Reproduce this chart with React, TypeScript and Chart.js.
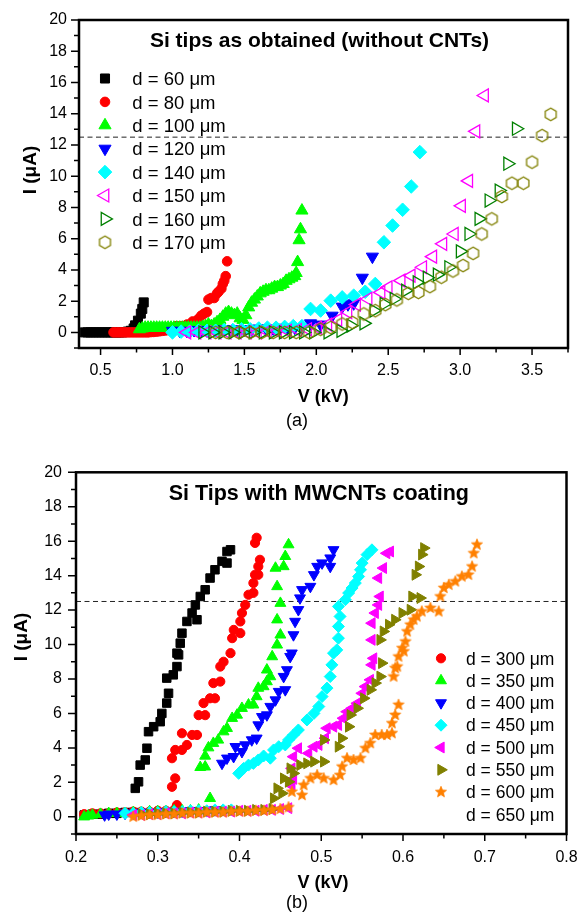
import { useEffect, useRef } from 'react';
import { Chart, registerables } from 'chart.js';

Chart.register(...registerables);

const FONT = "'Liberation Sans', Arial, Helvetica, sans-serif";
const THRESHOLD_I = 12.5;

// ---------------- Panel (a): Si tips as obtained ----------------
const A_TITLE = 'Si tips as obtained (without CNTs)';
const A_CAPTION = '(a)';
const A_X_TICKS = [0.5, 1.0, 1.5, 2.0, 2.5, 3.0, 3.5];
const A_X_MINOR = [0.75, 1.25, 1.75, 2.25, 2.75, 3.25, 3.75];
const A_Y_TICKS = [0, 2, 4, 6, 8, 10, 12, 14, 16, 18, 20];
const A_Y_MINOR = [-1, 1, 3, 5, 7, 9, 11, 13, 15, 17, 19];
const A_X_RANGE = [0.35, 3.75];
const A_Y_RANGE = [-1, 20];

const A60_V = [0.39,0.41,0.43,0.45,0.47,0.49,0.51,0.53,0.55,0.57,0.59,0.61,0.63,0.65,0.67,0.69,0.71,0.73,0.74,0.76,0.78,0.79,0.80];
const A60_I = [0,0,0,0,0,0,0,0,0,0,0,0,0,0,0.02,0.05,0.1,0.25,0.45,0.75,1.2,1.5,1.92];

const A80_V = [0.59,0.61,0.63,0.65,0.67,0.69,0.71,0.73,0.75,0.77,0.79,0.81,0.83,0.85,0.87,0.89,0.91,0.93,0.95,0.97,0.99,1.01,1.03,1.06,1.10,1.14,1.18,1.20,1.22,1.24,1.25,1.27,1.29,1.31,1.32,1.34,1.35,1.36,1.37,1.38];
const A80_I = [0,0,0,0,0,0,0,0,0,0,0,0,0,0.02,0.03,0.05,0.07,0.1,0.12,0.15,0.2,0.25,0.4,0.4,0.5,0.7,0.86,1.07,1.2,1.3,2.1,2.2,2.2,2.5,2.6,2.8,3.1,3.3,3.6,4.55];

const A100_V = [0.77,0.79,0.81,0.83,0.85,0.87,0.89,0.91,0.93,0.95,0.97,0.99,1.01,1.03,1.05,1.07,1.09,1.11,1.13,1.15,1.17,1.19,1.21,1.23,1.25,1.27,1.29,1.31,1.33,1.35,1.37,1.39,1.41,1.43,1.45,1.47,1.49,1.51,1.53,1.55,1.57,1.59,1.61,1.63,1.65,1.67,1.69,1.71,1.73,1.75,1.77,1.79,1.81,1.83,1.85,1.86,1.87,1.88,1.89,1.90];
const A100_I = [0.2,0.25,0.3,0.3,0.3,0.3,0.3,0.3,0.3,0.3,0.3,0.3,0.3,0.3,0.3,0.3,0.3,0.3,0.3,0.3,0.3,0.3,0.35,0.4,0.5,0.4,0.5,0.65,0.8,1.0,1.2,1.3,1.2,1.1,1.2,0.9,0.8,1.1,1.6,1.9,2.1,2.3,2.5,2.6,2.7,2.7,2.8,2.9,2.9,3.0,3.1,3.3,3.4,3.5,3.6,3.8,4.5,5.9,6.6,7.8];

const A120_V = [1.00,1.05,1.10,1.15,1.20,1.25,1.30,1.35,1.40,1.45,1.50,1.55,1.60,1.65,1.70,1.75,1.80,1.85,1.90,1.96,2.03,2.11,2.18,2.22,2.26,2.32,2.39];
const A120_I = [0.1,0.1,0.1,0.15,0.15,0.15,0.15,0.2,0.2,0.2,0.2,0.2,0.25,0.25,0.25,0.3,0.3,0.3,0.3,0.58,0.5,1.07,1.65,1.8,1.86,3.5,4.85];

const A140_V = [1.00,1.06,1.12,1.18,1.24,1.30,1.36,1.42,1.48,1.54,1.60,1.66,1.72,1.78,1.84,1.90,1.96,2.03,2.10,2.18,2.26,2.34,2.41,2.47,2.53,2.60,2.66,2.72];
const A140_I = [0,0.05,0.05,0.1,0.1,0.1,0.15,0.15,0.2,0.2,0.25,0.3,0.3,0.35,0.4,0.4,1.5,1.4,2.03,2.24,2.35,2.6,3.1,5.77,6.84,7.85,9.34,11.54];

const A150_V = [1.10,1.17,1.24,1.31,1.38,1.45,1.52,1.59,1.66,1.73,1.80,1.87,1.94,2.01,2.08,2.15,2.22,2.28,2.36,2.45,2.50,2.59,2.66,2.74,2.81,2.88,2.96,3.01,3.06,3.11,3.17];
const A150_I = [0,0,0,0,0,0,0,0,0.05,0.05,0.1,0.15,0.2,0.3,0.5,0.8,1.3,1.78,2.14,2.56,2.88,3.31,3.63,4.17,4.85,5.67,6.3,8.1,9.7,12.87,15.17];

const A160_V = [1.21,1.28,1.35,1.42,1.49,1.56,1.63,1.70,1.77,1.84,1.91,1.98,2.08,2.17,2.24,2.33,2.40,2.47,2.54,2.62,2.70,2.77,2.84,2.92,3.00,3.06,3.13,3.20,3.27,3.33,3.39];
const A160_I = [0,0,0,0,0,0,0,0,0,0,0,0,0,0.1,0.43,0.58,1.39,1.82,2.14,2.67,3.2,3.5,3.7,4.17,5.19,6.3,7.27,8.44,9.08,10.8,13.04];

const A170_V = [1.30,1.38,1.46,1.54,1.62,1.70,1.78,1.86,1.95,2.03,2.10,2.18,2.25,2.33,2.41,2.48,2.56,2.64,2.71,2.79,2.87,2.95,3.02,3.09,3.15,3.22,3.29,3.36,3.44,3.50,3.57,3.63];
const A170_I = [0,0,0,0,0,0,0,0,0,0.2,0.32,0.54,0.64,1.18,1.39,1.78,2.08,2.5,2.56,2.93,3.53,3.93,4.28,5.06,6.3,7.27,8.7,9.55,9.55,10.9,12.6,13.96];

// ---------------- Panel (b): Si tips with MWCNTs ----------------
const B_TITLE = 'Si Tips with MWCNTs coating';
const B_CAPTION = '(b)';
const B_X_TICKS = [0.2, 0.3, 0.4, 0.5, 0.6, 0.7, 0.8];
const B_X_MINOR = [0.25, 0.35, 0.45, 0.55, 0.65, 0.75];
const B_Y_TICKS = [0, 2, 4, 6, 8, 10, 12, 14, 16, 18, 20];
const B_Y_MINOR = [-1, 1, 3, 5, 7, 9, 11, 13, 15, 17, 19];
const B_X_RANGE = [0.2, 0.8];
const B_Y_RANGE = [-1, 20];

const BK_V = [0.21,0.22,0.23,0.24,0.25,0.26,0.27,0.2725,0.2765,0.2785,0.2847,0.2868,0.2887,0.295,0.303,0.305,0.311,0.3132,0.311,0.319,0.3235,0.3255,0.3235,0.3275,0.3296,0.3357,0.342,0.348,0.346,0.352,0.358,0.364,0.370,0.3786,0.3847,0.3847,0.389];
const BK_I = [0.1,0.15,0.15,0.2,0.2,0.25,0.25,1.65,2.03,3.0,3.3,3.98,4.94,5.23,5.52,6.0,6.6,7.17,8.05,8.24,8.72,9.4,9.5,10.08,10.66,11.34,11.83,11.44,12.3,12.79,13.18,13.86,14.34,14.83,14.73,15.4,15.5];

const B300_V = [0.21,0.22,0.23,0.24,0.25,0.26,0.27,0.28,0.29,0.30,0.31,0.32,0.3235,0.3174,0.3214,0.3174,0.3214,0.3296,0.3357,0.3296,0.342,0.348,0.350,0.358,0.356,0.364,0.370,0.368,0.3765,0.3765,0.3805,0.389,0.391,0.393,0.401,0.401,0.403,0.407,0.411,0.417,0.417,0.419,0.423,0.423,0.425,0.419,0.421];
const B300_I = [0.15,0.2,0.2,0.2,0.25,0.25,0.3,0.3,0.3,0.35,0.35,0.4,0.68,1.74,2.23,3.4,3.88,3.88,4.17,4.85,4.75,4.75,5.9,5.9,6.6,6.88,6.88,7.76,7.85,8.72,9.0,9.5,10.37,10.85,10.66,11.34,11.83,12.3,12.89,13.0,13.57,14.05,14.05,14.53,14.92,15.9,16.2];

const B350_V = [0.21,0.215,0.22,0.23,0.24,0.25,0.26,0.27,0.28,0.29,0.30,0.31,0.32,0.33,0.34,0.35,0.364,0.352,0.358,0.358,0.362,0.368,0.374,0.3805,0.3847,0.391,0.397,0.403,0.411,0.417,0.421,0.423,0.4295,0.4335,0.4377,0.4335,0.44,0.446,0.45,0.446,0.45,0.446,0.444,0.454,0.456,0.46];
const B350_I = [0,0.05,0.1,0.15,0.2,0.2,0.2,0.25,0.25,0.3,0.3,0.3,0.35,0.35,0.35,0.4,1.07,2.87,2.9,3.53,4.01,4.27,4.46,4.94,5.14,5.72,5.91,6.3,6.5,6.5,6.98,7.47,7.56,7.85,8.14,8.53,9.3,9.98,10.56,11.44,12.4,13.37,14.44,14.53,15.12,15.8];

const B400_V = [0.235,0.24,0.25,0.26,0.27,0.28,0.29,0.30,0.31,0.32,0.33,0.34,0.35,0.36,0.37,0.3786,0.3847,0.3928,0.395,0.403,0.407,0.415,0.421,0.423,0.4275,0.4335,0.4377,0.444,0.448,0.456,0.454,0.458,0.462,0.464,0.466,0.468,0.472,0.474,0.4765,0.4867,0.491,0.495,0.501,0.511,0.511,0.515];
const B400_I = [0.1,0.15,0.15,0.2,0.2,0.25,0.25,0.25,0.3,0.3,0.3,0.35,0.35,0.35,0.4,3.1,3.4,3.49,4.07,3.78,4.17,4.46,4.56,5.33,5.81,5.91,6.4,6.78,7.27,7.37,8.14,8.53,9.3,9.5,10.56,11.34,12.02,12.7,13.18,13.37,14.05,14.53,14.73,14.53,15.02,15.5];

const B450_V = [0.26,0.27,0.28,0.29,0.30,0.31,0.32,0.33,0.34,0.35,0.36,0.37,0.38,0.39,0.399,0.405,0.411,0.417,0.423,0.4295,0.4377,0.4417,0.448,0.456,0.46,0.466,0.472,0.4825,0.491,0.497,0.501,0.507,0.511,0.513,0.515,0.519,0.521,0.521,0.523,0.521,0.5295,0.5335,0.5377,0.5417,0.5457,0.548,0.55,0.556,0.562];
const B450_I = [0.2,0.2,0.25,0.25,0.25,0.3,0.3,0.3,0.35,0.35,0.35,0.4,0.4,0.4,2.52,2.81,3.0,3.1,3.3,3.53,3.4,3.88,4.07,4.17,4.46,4.75,5.04,5.62,6.0,6.4,6.98,7.47,8.14,8.82,9.5,9.69,10.37,11.05,11.63,12.21,12.6,12.99,13.28,13.57,13.95,14.34,14.73,15.22,15.5];

const B500_V = [0.27,0.28,0.29,0.30,0.31,0.32,0.33,0.34,0.35,0.36,0.37,0.38,0.39,0.40,0.41,0.42,0.43,0.44,0.45,0.46,0.464,0.466,0.464,0.466,0.472,0.4845,0.491,0.497,0.505,0.507,0.515,0.521,0.527,0.5315,0.5377,0.544,0.55,0.554,0.56,0.562,0.564,0.562,0.562,0.566,0.570,0.572,0.570,0.576,0.58,0.5845];
const B500_I = [0.1,0.1,0.15,0.15,0.2,0.2,0.2,0.25,0.25,0.25,0.3,0.3,0.3,0.35,0.35,0.35,0.4,0.4,0.45,0.5,1.8,2.2,2.81,3.49,3.98,3.69,4.07,4.17,4.56,5.14,5.23,5.33,5.72,6.1,6.3,6.59,7.17,7.56,7.95,8.82,9.2,10.27,11.24,11.83,12.3,12.79,13.86,14.44,15.3,15.4];

const B550_V = [0.28,0.29,0.30,0.31,0.32,0.33,0.34,0.35,0.36,0.37,0.38,0.39,0.40,0.41,0.42,0.43,0.44,0.4417,0.446,0.452,0.454,0.46,0.462,0.466,0.474,0.4825,0.491,0.503,0.503,0.521,0.525,0.5335,0.5355,0.544,0.552,0.56,0.566,0.572,0.574,0.572,0.576,0.5825,0.59,0.599,0.609,0.611,0.621,0.615,0.619,0.623,0.6255];
const B550_I = [0.15,0.15,0.2,0.2,0.2,0.25,0.25,0.25,0.3,0.3,0.3,0.35,0.35,0.35,0.4,0.4,0.45,1.07,1.65,1.36,2.23,2.03,2.81,2.52,3.0,3.1,3.2,3.2,4.46,4.07,4.56,5.23,5.91,6.3,6.88,7.37,7.76,8.14,8.92,10.27,10.76,11.15,11.44,11.83,12.02,12.79,12.7,14.05,14.53,15.22,15.6];

const B600_V = [0.27,0.28,0.29,0.30,0.31,0.32,0.33,0.34,0.35,0.36,0.37,0.38,0.39,0.40,0.41,0.42,0.43,0.44,0.45,0.46,0.464,0.4765,0.4785,0.4867,0.495,0.503,0.515,0.523,0.5255,0.5315,0.5395,0.548,0.554,0.56,0.566,0.574,0.5805,0.5865,0.5865,0.5905,0.5945,0.5885,0.5905,0.593,0.5945,0.599,0.601,0.603,0.605,0.609,0.613,0.617,0.623,0.6335,0.6437,0.6457,0.65,0.656,0.664,0.672,0.680,0.6845,0.6865,0.6905];
const B600_I = [0.0,0.05,0.1,0.1,0.15,0.15,0.2,0.2,0.2,0.25,0.25,0.25,0.3,0.3,0.3,0.35,0.35,0.4,0.45,0.55,1.45,1.26,1.84,2.23,2.42,2.23,2.13,2.42,2.91,3.4,3.3,3.4,3.98,4.27,4.75,4.75,4.75,4.85,5.43,5.91,6.5,8.14,8.63,8.72,9.3,9.79,9.6,10.17,10.76,11.15,11.44,11.63,11.92,12.12,11.92,12.79,13.28,13.47,13.66,13.95,14.05,14.53,15.3,15.8];

type Marker = { shape: string; rotation?: number; radius: number; color: string; filled: boolean };
type Series = { label: string | null; v: number[]; i: number[]; marker: Marker | null };

const A_SERIES: Series[] = [
  { label: 'd = 60 \u03bcm', v: A60_V, i: A60_I, marker: { shape: 'rect', radius: 6.4, color: '#000000', filled: true } },
  { label: 'd = 80 \u03bcm', v: A80_V, i: A80_I, marker: { shape: 'circle', radius: 4.8, color: '#ff0000', filled: true } },
  { label: 'd = 100 \u03bcm', v: A100_V, i: A100_I, marker: { shape: 'triangle', radius: 7, color: '#00ff00', filled: true } },
  { label: 'd = 120 \u03bcm', v: A120_V, i: A120_I, marker: { shape: 'triangle', rotation: 180, radius: 7, color: '#0000ff', filled: true } },
  { label: 'd = 140 \u03bcm', v: A140_V, i: A140_I, marker: { shape: 'rectRot', radius: 6.8, color: '#00ffff', filled: true } },
  { label: 'd = 150 \u03bcm', v: A150_V, i: A150_I, marker: { shape: 'triangle', rotation: 270, radius: 7.5, color: '#ff00ff', filled: false } },
  { label: 'd = 160 \u03bcm', v: A160_V, i: A160_I, marker: { shape: 'triangle', rotation: 90, radius: 7.5, color: '#008000', filled: false } },
  { label: 'd = 170 \u03bcm', v: A170_V, i: A170_I, marker: { shape: 'hexagon', radius: 6.3, color: '#808000', filled: false } },
];

const B_SERIES: Series[] = [
  { label: null, v: BK_V, i: BK_I, marker: { shape: 'rect', radius: 6, color: '#000000', filled: true } },
  { label: 'd = 300 \u03bcm', v: B300_V, i: B300_I, marker: { shape: 'circle', radius: 4.6, color: '#ff0000', filled: true } },
  { label: 'd = 350 \u03bcm', v: B350_V, i: B350_I, marker: { shape: 'triangle', radius: 6.3, color: '#00ff00', filled: true } },
  { label: 'd = 400 \u03bcm', v: B400_V, i: B400_I, marker: { shape: 'triangle', rotation: 180, radius: 6.3, color: '#0000ff', filled: true } },
  { label: 'd = 450 \u03bcm', v: B450_V, i: B450_I, marker: { shape: 'rectRot', radius: 6, color: '#00ffff', filled: true } },
  { label: 'd = 500 \u03bcm', v: B500_V, i: B500_I, marker: { shape: 'triangle', rotation: 270, radius: 6.3, color: '#ff00ff', filled: true } },
  { label: 'd = 550 \u03bcm', v: B550_V, i: B550_I, marker: { shape: 'triangle', rotation: 90, radius: 6.3, color: '#808000', filled: true } },
  { label: 'd = 600 \u03bcm', v: B600_V, i: B600_I, marker: { shape: 'star', radius: 5.8, color: '#ff8000', filled: true } },
  { label: 'd = 650 \u03bcm', v: [], i: [], marker: null },
];

type PanelDef = {
  series: Series[];
  xRange: number[]; yRange: number[];
  xTicks: number[]; xMinor: number[]; yTicks: number[]; yMinor: number[];
  height: number;
  yAxisWidth: number; xAxisHeight: number;
  padding: { left: number; right: number; top: number; bottom: number };
  xTickPad: number; yTickPad: number;
  title: string; titleFont: number; titleX: number; titleY: number;
  xTitleX: number; xTitleY: number; yTitleX: number; yTitleY: number;
  caption: string; captionY: number;
  legendMarkerX: number; legendTextX: number; legendY0: number; legendDy: number; legendFont: number;
};

const PANEL_A: PanelDef = {
  series: A_SERIES, xRange: A_X_RANGE, yRange: A_Y_RANGE,
  xTicks: A_X_TICKS, xMinor: A_X_MINOR, yTicks: A_Y_TICKS, yMinor: A_Y_MINOR,
  height: 440, yAxisWidth: 79, xAxisHeight: 40,
  padding: { left: 0, right: 14, top: 20, bottom: 52 },
  xTickPad: 13, yTickPad: 12,
  title: A_TITLE, titleFont: 21, titleX: 319.5, titleY: 46.5,
  xTitleX: 323.3, xTitleY: 402, yTitleX: 31, yTitleY: 170,
  caption: A_CAPTION, captionY: 426,
  legendMarkerX: 105, legendTextX: 132.3, legendY0: 78.5, legendDy: 23.4, legendFont: 18.5,
};

const PANEL_B: PanelDef = {
  series: B_SERIES, xRange: B_X_RANGE, yRange: B_Y_RANGE,
  xTicks: B_X_TICKS, xMinor: B_X_MINOR, yTicks: B_Y_TICKS, yMinor: B_Y_MINOR,
  height: 473, yAxisWidth: 76, xAxisHeight: 40,
  padding: { left: 0, right: 15.5, top: 32.3, bottom: 39 },
  xTickPad: 14, yTickPad: 14,
  title: B_TITLE, titleFont: 21.5, titleX: 318.8, titleY: 60,
  xTitleX: 323, xTitleY: 448, yTitleX: 22, yTitleY: 197,
  caption: B_CAPTION, captionY: 468,
  legendMarkerX: 441, legendTextX: 466, legendY0: 218.3, legendDy: 22.3, legendFont: 17.5,
};

function makeImage(m: Marker): HTMLCanvasElement {
  const r = m.radius;
  const size = Math.ceil(2 * r + 4);
  const c = document.createElement('canvas');
  c.width = size; c.height = size;
  const ctx = c.getContext('2d') as CanvasRenderingContext2D;
  const cx = size / 2, cy = size / 2;
  ctx.beginPath();
  if (m.shape === 'hexagon') {
    for (let k = 0; k < 6; k++) {
      const a = Math.PI / 2 + (k * Math.PI) / 3;
      const x = cx + r * Math.cos(a), y = cy - r * Math.sin(a);
      if (k === 0) ctx.moveTo(x, y); else ctx.lineTo(x, y);
    }
  } else {
    for (let k = 0; k < 10; k++) {
      const rr = k % 2 === 0 ? r : r * 0.45;
      const a = Math.PI / 2 + (k * Math.PI) / 5;
      const x = cx + rr * Math.cos(a), y = cy - rr * Math.sin(a);
      if (k === 0) ctx.moveTo(x, y); else ctx.lineTo(x, y);
    }
  }
  ctx.closePath();
  if (m.filled) { ctx.fillStyle = m.color; ctx.fill(); }
  ctx.strokeStyle = m.color; ctx.lineWidth = m.filled ? 0.8 : 1.3;
  ctx.stroke();
  return c;
}

function drawMarker(ctx: CanvasRenderingContext2D, m: Marker, img: HTMLCanvasElement | null, x: number, y: number) {
  if (img) { ctx.drawImage(img, x - img.width / 2, y - img.height / 2); return; }
  const r = m.radius;
  ctx.save();
  ctx.fillStyle = m.filled ? m.color : 'rgba(0,0,0,0)';
  ctx.strokeStyle = m.color;
  ctx.lineWidth = m.filled ? 1 : 1.3;
  ctx.beginPath();
  if (m.shape === 'rect') {
    const s = Math.SQRT1_2 * r; ctx.rect(x - s, y - s, 2 * s, 2 * s);
  } else if (m.shape === 'circle') {
    ctx.arc(x, y, r, 0, 2 * Math.PI);
  } else if (m.shape === 'rectRot') {
    ctx.moveTo(x - r, y); ctx.lineTo(x, y - r); ctx.lineTo(x + r, y); ctx.lineTo(x, y + r); ctx.closePath();
  } else if (m.shape === 'triangle') {
    let a = ((m.rotation || 0) * Math.PI) / 180;
    ctx.moveTo(x + Math.sin(a) * r, y - Math.cos(a) * r);
    a += (2 * Math.PI) / 3; ctx.lineTo(x + Math.sin(a) * r, y - Math.cos(a) * r);
    a += (2 * Math.PI) / 3; ctx.lineTo(x + Math.sin(a) * r, y - Math.cos(a) * r);
    ctx.closePath();
  }
  if (m.filled) ctx.fill();
  ctx.stroke();
  ctx.restore();
}

function buildChart(canvas: HTMLCanvasElement, p: PanelDef): Chart {
  const imgs = p.series.map((s) => (s.marker && (s.marker.shape === 'hexagon' || s.marker.shape === 'star') ? makeImage(s.marker) : null));
  const plotted = p.series.map((s, k) => ({ s, img: imgs[k] })).filter((o) => o.s.marker);
  const n = plotted.length;
  const datasets: any[] = plotted.map(({ s, img }, idx) => {
    const m = s.marker as Marker;
    return {
      label: s.label || '',
      data: s.v.map((x, k) => ({ x, y: s.i[k] })),
      pointStyle: img || m.shape,
      pointRotation: m.rotation || 0,
      rotation: m.rotation || 0,
      pointRadius: m.radius,
      pointHoverRadius: m.radius,
      pointBackgroundColor: m.filled ? m.color : 'rgba(0,0,0,0)',
      pointBorderColor: m.color,
      pointBorderWidth: m.filled ? 1 : 1.3,
      backgroundColor: m.filled ? m.color : 'rgba(0,0,0,0)',
      borderColor: m.color,
      showLine: false,
      order: n - idx,
    };
  });
  datasets.push({
    label: 'threshold',
    data: [{ x: p.xRange[0], y: THRESHOLD_I }, { x: p.xRange[1], y: THRESHOLD_I }],
    showLine: true,
    pointRadius: 0,
    borderColor: '#222222',
    borderWidth: 1,
    borderDash: [5, 3.5],
    order: n + 10,
  });

  const decor = {
    id: 'decor',
    afterDraw(chart: any) {
      const ctx: CanvasRenderingContext2D = chart.ctx;
      const a = chart.chartArea;
      const xs = chart.scales.x, ys = chart.scales.y;
      ctx.save();
      ctx.strokeStyle = '#000';
      ctx.lineWidth = 1.5;
      ctx.beginPath();
      p.xTicks.forEach((v) => { const px = xs.getPixelForValue(v); ctx.moveTo(px, a.bottom); ctx.lineTo(px, a.bottom + 7); });
      p.xMinor.forEach((v) => { const px = xs.getPixelForValue(v); ctx.moveTo(px, a.bottom); ctx.lineTo(px, a.bottom + 4.5); });
      p.yTicks.forEach((v) => { const py = ys.getPixelForValue(v); ctx.moveTo(a.left, py); ctx.lineTo(a.left - 8, py); });
      p.yMinor.forEach((v) => { const py = ys.getPixelForValue(v); ctx.moveTo(a.left, py); ctx.lineTo(a.left - 5, py); });
      ctx.stroke();
      ctx.lineWidth = 2.5;
      ctx.strokeRect(a.left, a.top, a.right - a.left, a.bottom - a.top);

      ctx.fillStyle = '#000';
      ctx.textBaseline = 'alphabetic';
      ctx.textAlign = 'center';
      ctx.font = `bold ${p.titleFont}px ${FONT}`;
      ctx.fillText(p.title, p.titleX, p.titleY);
      ctx.font = `bold 18px ${FONT}`;
      ctx.fillText('V (kV)', p.xTitleX, p.xTitleY);
      ctx.font = `18px ${FONT}`;
      ctx.fillText(p.caption, 297, p.captionY);
      ctx.save();
      ctx.translate(p.yTitleX, p.yTitleY);
      ctx.rotate(-Math.PI / 2);
      ctx.textBaseline = 'middle';
      ctx.font = `bold 19px ${FONT}`;
      ctx.fillText('I (\u03bcA)', 0, 0);
      ctx.restore();

      // legend
      ctx.textAlign = 'left';
      ctx.textBaseline = 'alphabetic';
      ctx.font = `${p.legendFont}px ${FONT}`;
      let row = 0;
      p.series.forEach((s, k) => {
        if (!s.label) return;
        const cy = p.legendY0 + row * p.legendDy;
        if (s.marker) drawMarker(ctx, s.marker, imgs[k], p.legendMarkerX, cy);
        ctx.fillStyle = '#000';
        ctx.fillText(s.label, p.legendTextX, cy + 0.358 * p.legendFont);
        row++;
      });
      ctx.restore();
    },
  };

  const tickFont = { family: FONT, size: 16 };
  return new Chart(canvas, {
    type: 'scatter',
    data: { datasets },
    plugins: [decor],
    options: {
      animation: false,
      responsive: false,
      devicePixelRatio: 1,
      events: [],
      layout: { padding: p.padding },
      plugins: { legend: { display: false }, tooltip: { enabled: false }, title: { display: false } },
      scales: {
        x: {
          type: 'linear',
          min: p.xRange[0], max: p.xRange[1],
          grid: { display: false, drawTicks: false },
          border: { display: false },
          afterBuildTicks: (s: any) => { s.ticks = p.xTicks.map((v) => ({ value: v })); },
          afterFit: (s: any) => { s.height = p.xAxisHeight; s.paddingLeft = 0; s.paddingRight = 0; },
          ticks: {
            font: tickFont, color: '#000', padding: p.xTickPad, maxRotation: 0, autoSkip: false,
            callback: (v: any) => Number(v).toFixed(1),
          },
        },
        y: {
          type: 'linear',
          min: p.yRange[0], max: p.yRange[1],
          grid: { display: false, drawTicks: false },
          border: { display: false },
          afterBuildTicks: (s: any) => { s.ticks = p.yTicks.map((v) => ({ value: v })); },
          afterFit: (s: any) => { s.width = p.yAxisWidth; s.paddingTop = 0; s.paddingBottom = 0; },
          ticks: {
            font: tickFont, color: '#000', padding: p.yTickPad, autoSkip: false,
            callback: (v: any) => String(v),
          },
        },
      },
    } as any,
  });
}

export default function App() {
  const refA = useRef<HTMLCanvasElement | null>(null);
  const refB = useRef<HTMLCanvasElement | null>(null);
  useEffect(() => {
    const ca = buildChart(refA.current as HTMLCanvasElement, PANEL_A);
    const cb = buildChart(refB.current as HTMLCanvasElement, PANEL_B);
    return () => { ca.destroy(); cb.destroy(); };
  }, []);
  return (
    <div style={{ position: 'absolute', left: 0, top: 0, width: 582, height: 913, background: '#ffffff' }}>
      <canvas ref={refA} width={582} height={PANEL_A.height} style={{ position: 'absolute', left: 0, top: 0, width: 582, height: PANEL_A.height }} />
      <canvas ref={refB} width={582} height={PANEL_B.height} style={{ position: 'absolute', left: 0, top: 440, width: 582, height: PANEL_B.height }} />
    </div>
  );
}
